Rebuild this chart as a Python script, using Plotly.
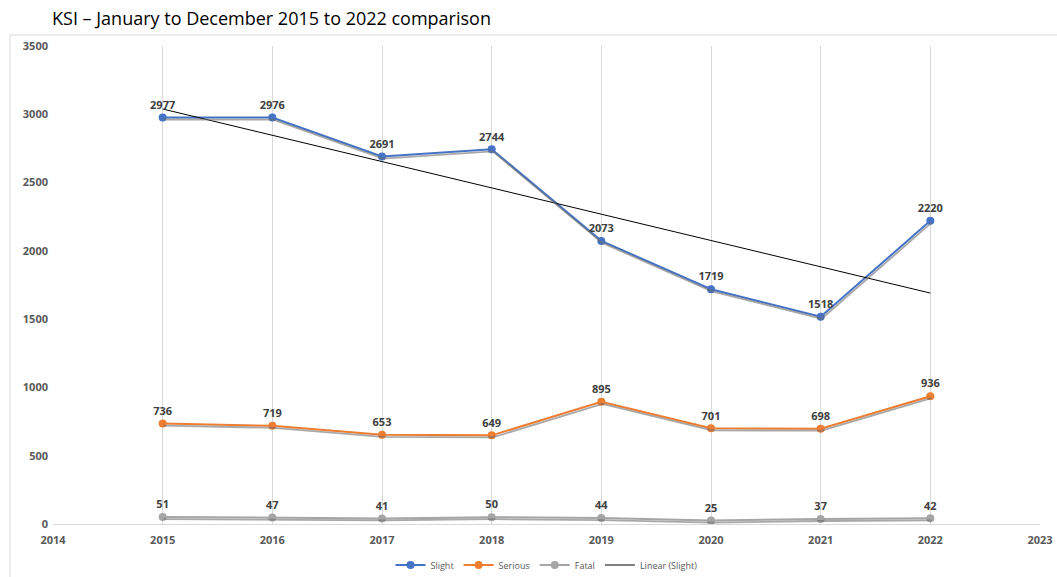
import numpy as np
import plotly.graph_objects as go

years = [2015, 2016, 2017, 2018, 2019, 2020, 2021, 2022]
slight = [2977, 2976, 2691, 2744, 2073, 1719, 1518, 2220]
serious = [736, 719, 653, 649, 895, 701, 698, 936]
fatal = [51, 47, 41, 50, 44, 25, 37, 42]

series = [("Slight", slight, "#4472C4"), ("Serious", serious, "#ED7D31"), ("Fatal", fatal, "#A5A5A5")]

coef = np.polyfit(years, slight, 1)
trend = list(np.polyval(coef, years))

fig = go.Figure()

# shadow lines (same data drawn on slightly offset overlay axes)
for name, vals, col in series:
    fig.add_trace(go.Scatter(x=years, y=vals, mode="lines", xaxis="x2", yaxis="y2",
                             line=dict(color="rgba(110,110,110,0.6)", width=1.8),
                             showlegend=False, hoverinfo="skip"))

for name, vals, col in series:
    fig.add_trace(go.Scatter(x=years, y=vals, mode="lines+markers+text", name=name,
                             line=dict(color=col, width=2),
                             marker=dict(color=col, size=8),
                             text=[str(v) for v in vals], textposition="top center",
                             textfont=dict(family="Open Sans", size=11, color="#404040", weight="bold")))

fig.add_trace(go.Scatter(x=years, y=trend, mode="lines", name="Linear (Slight)",
                         line=dict(color="#000000", width=1)))

W, H = 1057, 577
fig.update_layout(
    width=W, height=H,
    paper_bgcolor="white", plot_bgcolor="white",
    margin=dict(l=53, r=17, t=46, b=53, autoexpand=False),
    title=dict(text="KSI – January to December 2015 to 2022 comparison",
               x=52 / W, xanchor="left", y=1 - 19 / H, yanchor="middle",
               font=dict(family="Open Sans", size=18, color="#000000")),
    xaxis=dict(range=[2014, 2023], dtick=1, tick0=2014, showgrid=True, gridcolor="#D9D9D9",
               showline=True, linecolor="#D9D9D9", zeroline=False, ticks="", ticklabelstandoff=6,
               automargin=False,
               tickfont=dict(family="Open Sans", size=11, color="#595959", weight="bold")),
    yaxis=dict(range=[0, 3500], dtick=500, showgrid=False, zeroline=False, showline=False, ticks="",
               automargin=False, ticklabelstandoff=4,
               tickfont=dict(family="Open Sans", size=11, color="#595959", weight="bold")),
    xaxis2=dict(range=[2014 - 0.009, 2023 - 0.009], overlaying="x", visible=False),
    yaxis2=dict(range=[15, 3515], overlaying="y", visible=False),
    legend=dict(orientation="h", x=0.5, xanchor="center", y=-41 / 478, yanchor="middle",
                font=dict(family="Open Sans", size=9, color="#595959"), itemwidth=30),
    showlegend=True,
    shapes=[dict(type="rect", xref="paper", yref="paper",
                 x0=(10 - 53) / 987, x1=(1060 - 53) / 987,
                 y0=(524 - 580) / 478, y1=(524 - 35) / 478,
                 line=dict(color="#D9D9D9", width=1), layer="below")],
)

fig.write_html("out.html", config={"displayModeBar": False},
               post_script="document.body.style.margin='0';document.body.style.overflow='hidden';")
